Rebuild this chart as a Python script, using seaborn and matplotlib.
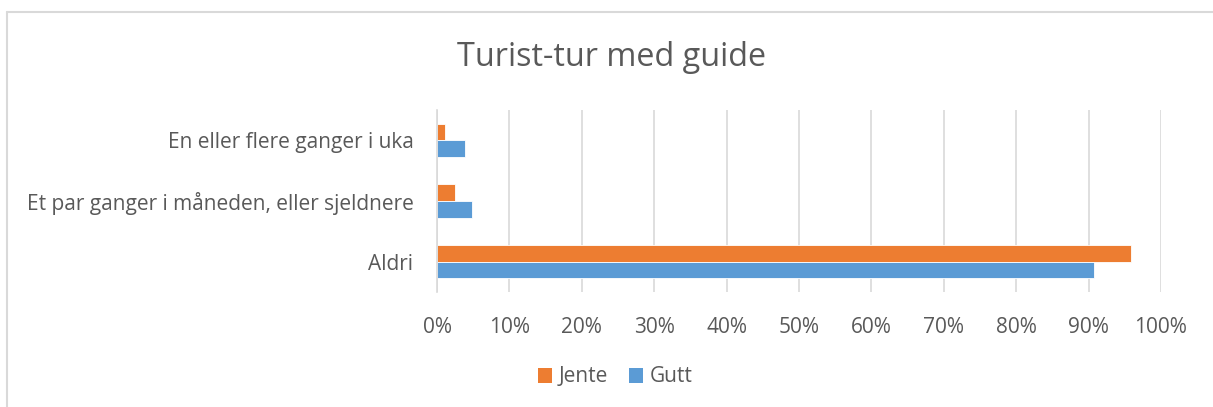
import matplotlib
matplotlib.use("Agg")
import matplotlib.pyplot as plt
import seaborn as sns
import pandas as pd
from matplotlib.lines import Line2D
from matplotlib.patches import Patch
from matplotlib.ticker import PercentFormatter

categories = ["En eller flere ganger i uka",
              "Et par ganger i måneden, eller sjeldnere",
              "Aldri"]
series_names = ["Jente", "Gutt"]
jente = [1.1, 2.5, 95.9]
gutt = [3.9, 4.9, 90.8]
xticks = [0, 10, 20, 30, 40, 50, 60, 70, 80, 90, 100]
title = "Turist-tur med guide"

colors = {"Jente": "#ED7D31", "Gutt": "#5B9BD5"}

df = pd.DataFrame({
    "kategori": categories * 2,
    "kjonn": ["Jente"] * 3 + ["Gutt"] * 3,
    "verdi": jente + gutt,
})

sns.set_theme(style="white")
plt.rcParams["font.family"] = ["Open Sans", "DejaVu Sans"]
text_color = "#595959"

fig = plt.figure(figsize=(12.13, 4.07), dpi=100)
W, H = 1213, 407
ax = fig.add_axes([437 / W, 1 - 292 / H, (1161 - 437) / W, (292 - 110) / H])

sns.barplot(data=df, y="kategori", x="verdi", hue="kjonn", order=categories,
            hue_order=series_names, palette=colors, orient="h", width=0.55,
            ax=ax, legend=False, saturation=1, linewidth=0.6, edgecolor="white")

ax.set_xlim(0, 100)
ax.set_xticks(xticks)
ax.xaxis.set_major_formatter(PercentFormatter(decimals=0))
ax.grid(axis="x", color="#D9D9D9", linewidth=1.2)
ax.set_axisbelow(True)
for s in ["top", "right", "bottom"]:
    ax.spines[s].set_visible(False)
ax.spines["left"].set_color("#D9D9D9")
ax.spines["left"].set_linewidth(1.2)
ax.set_xlabel("")
ax.set_ylabel("")
ax.tick_params(axis="x", colors=text_color, labelsize=15, length=0, pad=18)
ax.tick_params(axis="y", colors=text_color, labelsize=15, length=0, pad=17)
for lbl in ax.get_xticklabels() + ax.get_yticklabels():
    lbl.set_color(text_color)

fig.text(612 / W, 1 - 57 / H, title, ha="center", va="center",
         fontsize=23.3, color=text_color)

handles = [Patch(facecolor=colors[n], edgecolor="none") for n in series_names]
fig.legend(handles, series_names, loc="center", bbox_to_anchor=(615 / W, 1 - 377 / H),
           ncol=2, frameon=False, fontsize=15, labelcolor=text_color,
           handlelength=0.7, handleheight=0.7, handletextpad=0.3, columnspacing=1.0)

# chart area border (top and left visible)
fig.add_artist(Line2D([7 / W, 7 / W], [0, 1 - 11.5 / H], transform=fig.transFigure,
                      color="#D9D9D9", linewidth=1.5))
fig.add_artist(Line2D([7 / W, 1], [1 - 11.5 / H, 1 - 11.5 / H], transform=fig.transFigure,
                      color="#D9D9D9", linewidth=1.5))

fig.savefig("out.png", dpi=100, facecolor="white")
